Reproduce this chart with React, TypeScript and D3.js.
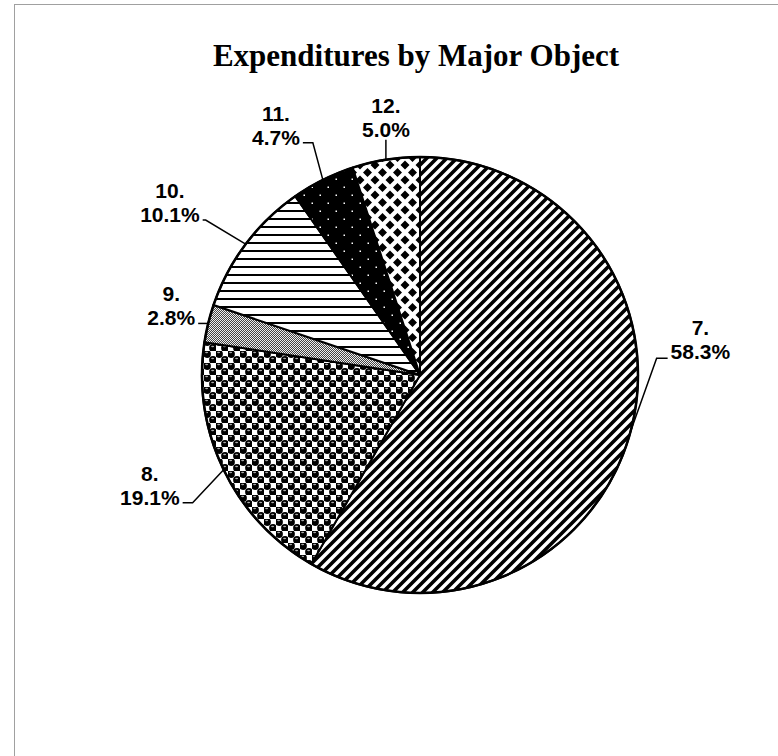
import React from 'react';
import * as d3 from 'd3';

// slice data, clockwise from 12 o'clock
const categories = ['7.', '8.', '9.', '10.', '11.', '12.'];
const shares = [58.3, 19.1, 2.8, 10.1, 4.7, 5.0];
const patternIds = ['p7', 'p8', 'p9', 'p10', 'p11', 'p12'];

const width = 778;
const height = 756;
const cx = 420;
const cy = 375;
const radius = 218;

// leader line layout per slice: elbow offset from the rim point, tail length, side of the label
const leaders = [
  { dx: 26, dy: -73, tail: 11, side: 'right' },
  { dx: -31, dy: 33, tail: -10, side: 'left' },
  { dx: -8, dy: 0, tail: -2, side: 'left' },
  { dx: -40, dy: -24, tail: -3, side: 'left' },
  { dx: -10, dy: -37, tail: -10, side: 'left' },
  { dx: 0, dy: -20, tail: 0, side: 'top' },
];

const fontSize = 21;
const lineGap = 24;

function textWidth(s: string) {
  const w: Record<string, number> = { '.': 0.278, '%': 0.889 };
  let t = 0;
  for (const ch of s) t += w[ch] ?? 0.556;
  return t * fontSize;
}

export default function App() {
  const pie = d3.pie<number>().sort(null).value(d => d);
  const arcs = pie(shares);
  const arc = d3.arc<d3.PieArcDatum<number>>().innerRadius(0).outerRadius(radius);

  return (
    <svg width={width} height={height} style={{ position: 'absolute', left: 0, top: 0, background: '#fff' }}>
      <defs>
        <pattern id="p7" width={10} height={10} patternUnits="userSpaceOnUse">
          <rect width={10} height={10} fill="#fff" />
          <path d="M-5,5 L5,-5 M0,10 L10,0 M5,15 L15,5" stroke="#000" strokeWidth={3.6} />
        </pattern>
        <pattern id="p8" width={12} height={12} patternUnits="userSpaceOnUse">
          <rect width={12} height={12} fill="#fff" />
          <circle cx={3} cy={3} r={3.9} fill="#000" />
          <circle cx={9} cy={9} r={3.9} fill="#000" />
          <ellipse cx={2.6} cy={1.5} rx={1.5} ry={0.8} fill="#aaa" />
          <ellipse cx={8.6} cy={7.5} rx={1.5} ry={0.8} fill="#aaa" />
        </pattern>
        <pattern id="p9" width={2} height={2} patternUnits="userSpaceOnUse">
          <rect width={2} height={2} fill="#eee" />
          <rect width={1} height={1} fill="#444" />
          <rect x={1} y={1} width={1} height={1} fill="#444" />
        </pattern>
        <pattern id="p10" width={8} height={8} patternUnits="userSpaceOnUse">
          <rect width={8} height={8} fill="#fff" />
          <line x1={0} x2={8} y1={4} y2={4} stroke="#000" strokeWidth={2} />
        </pattern>
        <pattern id="p11" width={16} height={16} patternUnits="userSpaceOnUse">
          <rect width={16} height={16} fill="#000" />
          <rect x={3.5} y={3.5} width={1.5} height={1.5} fill="#fff" />
          <rect x={11.5} y={11.5} width={1.5} height={1.5} fill="#fff" />
        </pattern>
        <pattern id="p12" width={15} height={15} patternUnits="userSpaceOnUse">
          <rect width={15} height={15} fill="#fff" />
          <path d="M7.5,3 L12,7.5 L7.5,12 L3,7.5 Z M0,-4.5 L4.5,0 L0,4.5 L-4.5,0 Z M15,-4.5 L19.5,0 L15,4.5 L10.5,0 Z M0,10.5 L4.5,15 L0,19.5 L-4.5,15 Z M15,10.5 L19.5,15 L15,19.5 L10.5,15 Z" fill="#000" />
        </pattern>
      </defs>

      <rect x={14.5} y={4.5} width={900} height={900} fill="none" stroke="#a0a0a0" />

      <text x={416} y={66} textAnchor="middle" fontFamily="'Liberation Serif', 'Times New Roman', serif"
        fontWeight="bold" fontSize={31}>Expenditures by Major Object</text>

      <g transform={`translate(${cx},${cy})`}>
        {arcs.map((a, i) => (
          <path key={i} d={arc(a) ?? ''} fill={`url(#${patternIds[i]})`} stroke="#000" strokeWidth={2} strokeLinejoin="round" />
        ))}
        <circle r={radius} fill="none" stroke="#000" strokeWidth={2.5} />
      </g>

      {arcs.map((a, i) => {
        const mid = (a.startAngle + a.endAngle) / 2;
        const ex = cx + radius * Math.sin(mid);
        const ey = cy - radius * Math.cos(mid);
        const L = leaders[i];
        const bx = ex + L.dx;
        const by = ey + L.dy;
        const tx = bx + L.tail;
        const pct = `${shares[i].toFixed(1)}%`;
        const boxW = Math.max(textWidth(pct), textWidth(categories[i]));
        let centerX: number;
        let baseY: number;
        if (L.side === 'right') {
          centerX = tx + 3 + boxW / 2;
          baseY = by + 1;
        } else if (L.side === 'left') {
          centerX = tx - 3 - boxW / 2;
          baseY = by + 2;
        } else {
          centerX = tx;
          baseY = by - 3;
        }
        return (
          <g key={`l${i}`}>
            <polyline points={`${ex},${ey} ${bx},${by} ${tx},${by}`} fill="none" stroke="#000" strokeWidth={1.5} />
            <text x={centerX} y={baseY - lineGap} textAnchor="middle" fontFamily="'Liberation Sans', Arial, sans-serif"
              fontWeight="bold" fontSize={fontSize}>{categories[i]}</text>
            <text x={centerX} y={baseY} textAnchor="middle" fontFamily="'Liberation Sans', Arial, sans-serif"
              fontWeight="bold" fontSize={fontSize}>{pct}</text>
          </g>
        );
      })}
    </svg>
  );
}
